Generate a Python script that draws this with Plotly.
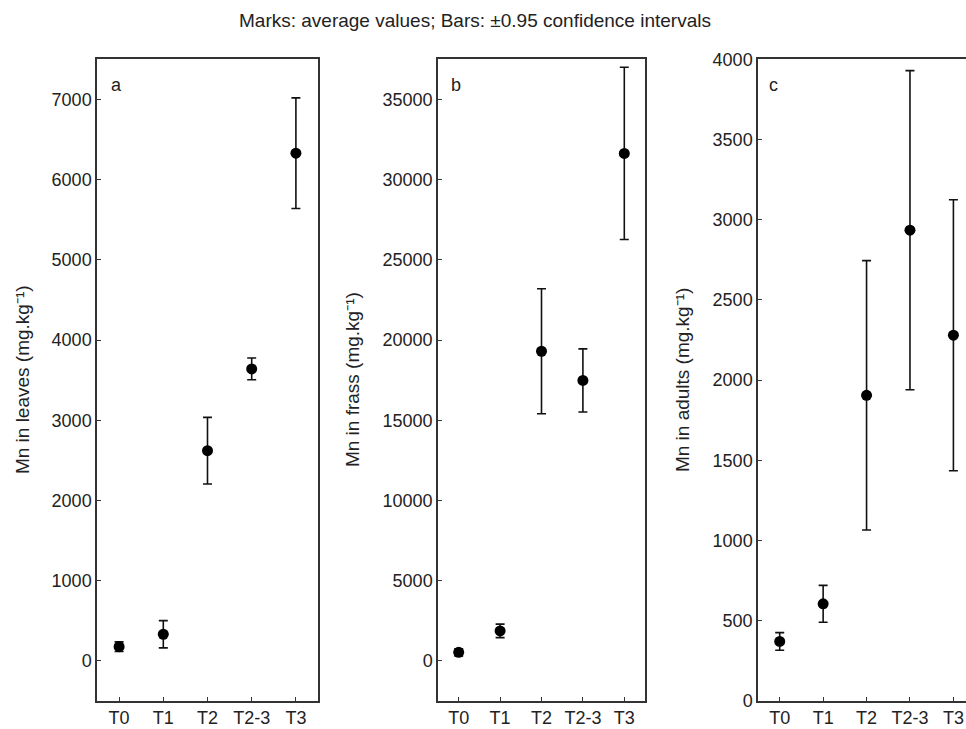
import plotly.graph_objects as go

categories = ["T0", "T1", "T2", "T2-3", "T3"]

leaves_mean = [175, 330, 2620, 3640, 6330]
leaves_err = [60, 170, 415, 135, 690]

frass_mean = [520, 1860, 19300, 17480, 31640]
frass_err = [220, 420, 3900, 1970, 5370]

adults_mean = [370, 605, 1905, 2935, 2280]
adults_err = [55, 115, 840, 995, 845]

panel_letters = ["a", "b", "c"]
y_titles = ["Mn in leaves (mg.kg⁻¹)",
            "Mn in frass (mg.kg⁻¹)",
            "Mn in adults (mg.kg⁻¹)"]

FONT = "Liberation Sans, Arial, sans-serif"
TXT = "#222222"
W, H = 966, 729

# vertical mapping compensation (observed render offset/scale)
OFF, PH = 9.6, 708.6


def fy(px):
    """paper fraction (bottom-up) for a pixel row measured from top"""
    return 1 - (px - OFF) / PH


panels = [
    dict(x0=97, x1=318, xr=[-0.5, 4.5], yr=[-500, 7500], dt=1000,
         mean=leaves_mean, err=leaves_err, mirror=True, title_x=22),
    dict(x0=438, x1=645, xr=[-0.5, 4.5], yr=[-2500, 37500], dt=5000,
         mean=frass_mean, err=frass_err, mirror=True, title_x=352),
    dict(x0=758, x1=966, xr=[-0.5, 4.29], yr=[0, 4000], dt=500,
         mean=adults_mean, err=adults_err, mirror=False, title_x=682),
]
y_top, y_bot = 59, 700

fig = go.Figure()
layout = dict(
    width=W, height=H,
    margin=dict(l=0, r=0, t=0, b=0),
    paper_bgcolor="white", plot_bgcolor="white",
    showlegend=False,
    font=dict(family=FONT, size=18, color=TXT),
)
annotations = [dict(text="Marks: average values; Bars: ±0.95 confidence intervals",
                    x=475 / W, y=fy(20), xref="paper", yref="paper",
                    showarrow=False, font=dict(size=19, color=TXT),
                    xanchor="center", yanchor="middle")]

for i, p in enumerate(panels):
    n = "" if i == 0 else str(i + 1)
    fig.add_trace(go.Scatter(
        x=categories, y=p["mean"], mode="markers",
        xaxis="x" + n, yaxis="y" + n,
        marker=dict(color="black", size=11),
        error_y=dict(type="data", array=p["err"], visible=True,
                     color="#111111", thickness=1.6, width=4.5),
    ))
    dom_x = [p["x0"] / W, min(p["x1"] / W, 1.0)]
    dom_y = [max(fy(y_bot), 0.0), min(fy(y_top), 1.0)]
    layout["xaxis" + n] = dict(
        domain=dom_x, anchor="y" + n, type="category",
        categoryorder="array", categoryarray=categories,
        range=p["xr"], showline=True, linecolor="#333333", linewidth=1.5,
        mirror=True, ticks="inside", ticklen=4, tickcolor="#333333",
        showgrid=False, zeroline=False,
        tickfont=dict(size=18, color=TXT),
    )
    layout["yaxis" + n] = dict(
        domain=dom_y, anchor="x" + n, range=p["yr"], dtick=p["dt"], tick0=0,
        tickformat="d", showline=True, linecolor="#333333", linewidth=1.5,
        mirror=p["mirror"], ticks="inside", ticklen=4, tickcolor="#333333",
        showgrid=False, zeroline=False,
        tickfont=dict(size=18, color=TXT),
    )
    annotations.append(dict(text=y_titles[i], x=p["title_x"] / W,
                            y=fy(379.5), xref="paper", yref="paper",
                            textangle=-90, showarrow=False,
                            font=dict(size=19, color=TXT),
                            xanchor="center", yanchor="middle"))
    letter_x = [116, 456, 773][i]
    annotations.append(dict(text=panel_letters[i], x=letter_x / W,
                            y=fy(85), xref="paper", yref="paper",
                            showarrow=False, font=dict(size=18, color=TXT),
                            xanchor="center", yanchor="middle"))

layout["annotations"] = annotations
fig.update_layout(**layout)
fig.write_html("out.html")
